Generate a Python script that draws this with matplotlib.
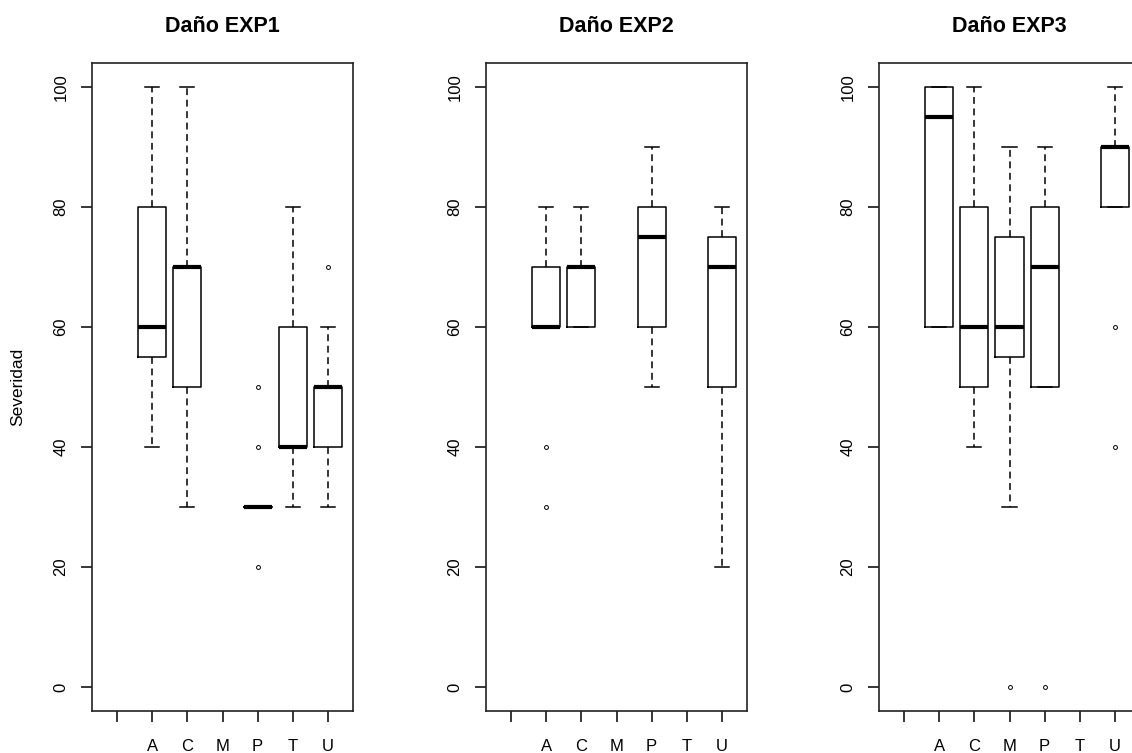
import matplotlib.pyplot as plt

# categories on the x axis (first level is an empty factor level)
categories = ['', 'A', 'C', 'M', 'P', 'T', 'U']
titles = ['Daño EXP1', 'Daño EXP2', 'Daño EXP3']
y_ticks = [0, 20, 40, 60, 80, 100]

# box statistics per experiment, one entry per category (None = no box)
exp1_low = [None, 40, 30, None, 30, 30, 30]
exp1_q1 = [None, 55, 50, None, 30, 40, 40]
exp1_med = [None, 60, 70, None, 30, 40, 50]
exp1_q3 = [None, 80, 70, None, 30, 60, 50]
exp1_high = [None, 100, 100, None, 30, 80, 60]
exp1_out = [[], [], [], [], [20, 40, 50], [], [70]]

exp2_low = [None, 60, 60, None, 50, None, 20]
exp2_q1 = [None, 60, 60, None, 60, None, 50]
exp2_med = [None, 60, 70, None, 75, None, 70]
exp2_q3 = [None, 70, 70, None, 80, None, 75]
exp2_high = [None, 80, 80, None, 90, None, 80]
exp2_out = [[], [40, 30], [], [], [], [], []]

exp3_low = [None, 60, 40, 30, 50, None, 80]
exp3_q1 = [None, 60, 50, 55, 50, None, 80]
exp3_med = [None, 95, 60, 60, 70, None, 90]
exp3_q3 = [None, 100, 80, 75, 80, None, 90]
exp3_high = [None, 100, 100, 90, 90, None, 100]
exp3_out = [[], [], [], [0], [0], [], [60, 40]]

experiments = [
    (exp1_low, exp1_q1, exp1_med, exp1_q3, exp1_high, exp1_out),
    (exp2_low, exp2_q1, exp2_med, exp2_q3, exp2_high, exp2_out),
    (exp3_low, exp3_q1, exp3_med, exp3_q3, exp3_high, exp3_out),
]

plt.rcParams['font.family'] = ['Liberation Sans', 'DejaVu Sans']

W, H = 1132, 753
fig = plt.figure(figsize=(W / 100, H / 100), dpi=100)
lefts = [92, 486, 879]

for i, (low, q1, med, q3, high, out) in enumerate(experiments):
    ax = fig.add_axes([lefts[i] / W, 42 / H, 261 / W, 648 / H])
    stats, pos = [], []
    for k in range(len(categories)):
        if med[k] is None:
            continue
        stats.append(dict(whislo=low[k], q1=q1[k], med=med[k], q3=q3[k],
                          whishi=high[k], fliers=out[k]))
        pos.append(k + 1)
    ax.bxp(stats, positions=pos, widths=0.8, capwidths=0.4,
           boxprops=dict(color='black', linewidth=1.1),
           whiskerprops=dict(color='black', linewidth=1.1, linestyle=(0, (4.5, 3))),
           capprops=dict(color='black', linewidth=1.1),
           medianprops=dict(color='black', linewidth=3, solid_capstyle='butt'),
           flierprops=dict(marker='o', markersize=2.8, markerfacecolor='none',
                           markeredgecolor='black', markeredgewidth=0.7))
    ax.set_xlim(0.28, 7.72)
    ax.set_ylim(-4, 104)
    ax.set_xticks(range(1, len(categories) + 1))
    ax.set_xticklabels(categories, fontsize=12)
    ax.set_yticks(y_ticks)
    ax.set_yticklabels([str(v) for v in y_ticks], fontsize=12, rotation=90, va='center')
    ax.tick_params(axis='x', length=8, width=1.1, pad=12)
    ax.tick_params(axis='y', length=8, width=1.1, pad=9)
    for s in ax.spines.values():
        s.set_linewidth(1.2)
        s.set_color('#222222')
    ax.set_title(titles[i], fontsize=15.5, fontweight='bold', pad=22)
    if i == 0:
        ax.set_ylabel('Severidad', fontsize=12.5)
        ax.yaxis.set_label_coords(-0.283, 0.5)
        ax.yaxis.label.set_va('center')

fig.savefig('out.png', dpi=100)
